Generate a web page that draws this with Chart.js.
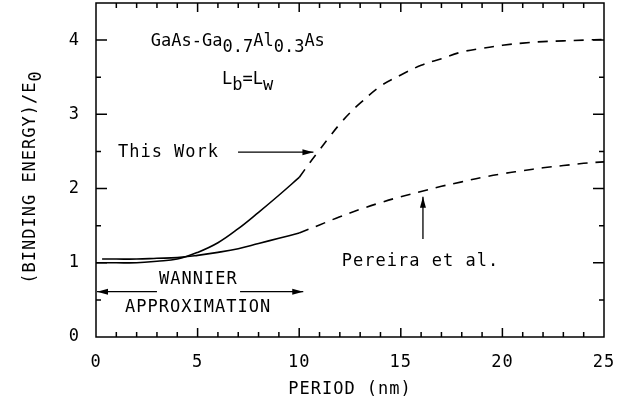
<!DOCTYPE html>
<html>
<head>
<meta charset="utf-8">
<script src="https://cdn.jsdelivr.net/npm/chart.js@4.4.0/dist/chart.umd.min.js"></script>
<style>
  html, body { margin: 0; padding: 0; background: #fff; }
  #wrap { width: 624px; height: 402px; }
</style>
</head>
<body>
<div id="wrap"><canvas id="excitonChart" width="624" height="402"></canvas></div>
<script>
// Periode (nm) et énergie de liaison / E0
const thisWorkX = [0, 1, 2, 3, 4, 5, 6, 7, 8, 9, 10];
const thisWorkY = [1.00, 1.00, 1.00, 1.02, 1.05, 1.14, 1.27, 1.46, 1.68, 1.91, 2.15];
const thisWorkDashX = [10, 10.5, 11, 11.5, 12, 12.5, 13, 14, 15, 16, 17, 18, 19, 20, 21, 22, 23, 24, 25];
const thisWorkDashY = [2.15, 2.34, 2.52, 2.70, 2.87, 3.02, 3.15, 3.38, 3.53, 3.66, 3.75, 3.84, 3.89, 3.93, 3.96, 3.98, 3.99, 4.00, 4.01];

const pereiraX = [0.3, 1, 2, 3, 4, 5, 6, 7, 8, 9, 10];
const pereiraY = [1.05, 1.05, 1.05, 1.06, 1.07, 1.10, 1.14, 1.19, 1.26, 1.33, 1.40];
const pereiraDashX = [10, 11, 12, 13, 14, 15, 16, 17, 18, 19, 20, 21, 22, 23, 24, 25];
const pereiraDashY = [1.40, 1.51, 1.62, 1.72, 1.81, 1.89, 1.96, 2.03, 2.09, 2.15, 2.20, 2.24, 2.28, 2.31, 2.34, 2.36];

const xTicks = [0, 5, 10, 15, 20, 25];
const yTicks = [0, 1, 2, 3, 4];

const FONT = '"DejaVu Sans Mono", monospace';

function pts(xs, ys) {
    return xs.map((x, i) => ({ x: x, y: ys[i] }));
}

function line(xs, ys, dashed) {
    return {
        data: pts(xs, ys),
        showLine: true,
        borderColor: '#000',
        borderWidth: 1.6,
        borderDash: dashed ? [10, 8] : [],
        pointRadius: 0,
        tension: 0.4,
        fill: false
    };
}

// texte avec indices (morceaux {t, sub})
function richText(ctx, parts, x, y) {
    let cx = x;
    parts.forEach(p => {
        ctx.fillText(p.t, cx, p.sub ? y + 6 : y);
        cx += ctx.measureText(p.t).width;
    });
}

function arrow(ctx, x1, y1, x2, y2) {
    const a = Math.atan2(y2 - y1, x2 - x1);
    ctx.beginPath();
    ctx.moveTo(x1, y1);
    ctx.lineTo(x2, y2);
    ctx.stroke();
    ctx.beginPath();
    ctx.moveTo(x2, y2);
    ctx.lineTo(x2 - 11 * Math.cos(a) + 3 * Math.sin(a), y2 - 11 * Math.sin(a) - 3 * Math.cos(a));
    ctx.lineTo(x2 - 11 * Math.cos(a) - 3 * Math.sin(a), y2 - 11 * Math.sin(a) + 3 * Math.cos(a));
    ctx.closePath();
    ctx.fill();
}

const framePlugin = {
    id: 'frame',
    beforeDraw(chart) {
        chart.ctx.letterSpacing = '1px';
    },
    afterDraw(chart) {
        const ctx = chart.ctx;
        const a = chart.chartArea;
        const xs = chart.scales.x, ys = chart.scales.y;
        ctx.save();
        ctx.strokeStyle = '#000';
        ctx.fillStyle = '#000';
        ctx.lineWidth = 1.5;
        ctx.strokeRect(a.left, a.top, a.right - a.left, a.bottom - a.top);

        // graduations vers l'intérieur, sur les 4 côtés
        ctx.beginPath();
        for (let v = 1; v < 25; v++) {
            const px = xs.getPixelForValue(v);
            const len = v % 5 === 0 ? 9 : 5;
            ctx.moveTo(px, a.bottom); ctx.lineTo(px, a.bottom - len);
            ctx.moveTo(px, a.top); ctx.lineTo(px, a.top + len);
        }
        for (let v = 0.5; v < 4.5; v += 0.5) {
            const py = ys.getPixelForValue(v);
            const len = Number.isInteger(v) ? 11 : 5;
            ctx.moveTo(a.left, py); ctx.lineTo(a.left + len, py);
            ctx.moveTo(a.right, py); ctx.lineTo(a.right - len, py);
        }
        ctx.stroke();

        // titre de l'axe Y
        ctx.save();
        ctx.translate(31, 177);
        ctx.rotate(-Math.PI / 2);
        ctx.font = '17px ' + FONT;
        ctx.textBaseline = 'middle';
        const yTitle = [{ t: '(BINDING ENERGY)/E' }, { t: '0', sub: true }];
        const w = yTitle.reduce((s, p) => s + ctx.measureText(p.t).width, 0);
        richText(ctx, yTitle, -w / 2, 0);
        ctx.restore();

        const X = v => xs.getPixelForValue(v);
        const Y = v => ys.getPixelForValue(v);
        ctx.font = '17px ' + FONT;
        ctx.textBaseline = 'middle';
        ctx.textAlign = 'left';
        ctx.lineWidth = 1.3;

        ctx.letterSpacing = '0px';
        richText(ctx, [{ t: 'GaAs-Ga' }, { t: '0.7', sub: true }, { t: 'Al' }, { t: '0.3', sub: true }, { t: 'As' }], X(2.7), Y(3.98));
        richText(ctx, [{ t: 'L' }, { t: 'b', sub: true }, { t: '=L' }, { t: 'w', sub: true }], X(6.2), Y(3.47));
        ctx.letterSpacing = '1px';

        ctx.fillText('This Work', X(1.08), Y(2.49));
        arrow(ctx, X(6.99), Y(2.49), X(10.7), Y(2.49));

        ctx.fillText('Pereira et al.', X(12.1), Y(1.01));
        arrow(ctx, X(16.09), Y(1.32), X(16.09), Y(1.89));

        ctx.fillText('WANNIER', X(3.1), Y(0.78));
        ctx.fillText('APPROXIMATION', X(1.43), Y(0.40));
        arrow(ctx, X(3.0), Y(0.61), X(0.05), Y(0.61));
        arrow(ctx, X(7.09), Y(0.61), X(10.2), Y(0.61));
        ctx.restore();
    }
};

const ctx = document.getElementById('excitonChart').getContext('2d');
new Chart(ctx, {
    type: 'scatter',
    data: {
        datasets: [
            line(thisWorkX, thisWorkY, false),
            line(thisWorkDashX, thisWorkDashY, true),
            line(pereiraX, pereiraY, false),
            line(pereiraDashX, pereiraDashY, true)
        ]
    },
    options: {
        responsive: false,
        animation: false,
        events: [],
        layout: { padding: { top: 3, right: 20, left: 0, bottom: 0 } },
        plugins: {
            legend: { display: false },
            tooltip: { enabled: false }
        },
        scales: {
            x: {
                type: 'linear',
                min: 0,
                max: 25,
                afterBuildTicks: scale => { scale.ticks = xTicks.map(v => ({ value: v })); },
                afterFit: scale => {
                    scale.height = 65;
                    scale.paddingLeft = 0;
                    scale.paddingRight = 0;
                },
                grid: { display: false, drawTicks: false },
                border: { display: false },
                ticks: { color: '#000', font: { family: FONT, size: 17 }, padding: 15, maxRotation: 0 },
                title: {
                    display: true,
                    text: 'PERIOD (nm)',
                    color: '#000',
                    font: { family: FONT, size: 17 },
                    padding: { top: 0, bottom: 2 }
                }
            },
            y: {
                type: 'linear',
                min: 0,
                max: 4.5,
                afterBuildTicks: scale => { scale.ticks = yTicks.map(v => ({ value: v })); },
                afterFit: scale => {
                    scale.width = 96;
                    scale.paddingTop = 0;
                    scale.paddingBottom = 0;
                },
                grid: { display: false, drawTicks: false },
                border: { display: false },
                ticks: { color: '#000', font: { family: FONT, size: 17 }, padding: 16 }
            }
        }
    },
    plugins: [framePlugin]
});
</script>
</body>
</html>
